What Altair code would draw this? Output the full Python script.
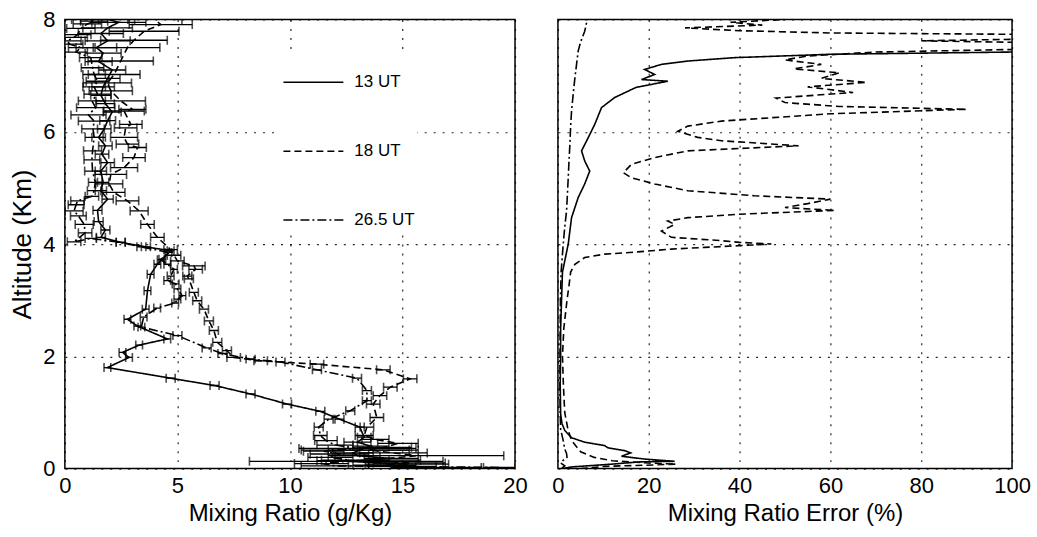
import altair as alt
import pandas as pd

FONT = "Liberation Sans Narrow, Arial Narrow, Liberation Sans, Arial, sans-serif"
SERIES = ["13 UT", "18 UT", "26.5 UT"]
DASHES = [[1, 0], [7, 4], [9, 3, 2, 3]]

# ---------------- Left panel: mixing ratio profiles (g/Kg) ----------------
ALT_13 = [0.04, 0.08, 0.13, 0.18, 0.23, 0.28, 0.33, 0.40, 0.47, 0.56, 0.74, 0.88, 1.02, 1.15,
          1.33, 1.48, 1.61, 1.80, 1.98, 2.07, 2.20, 2.31, 2.54, 2.66, 2.84, 3.17, 3.46, 3.64,
          3.73, 3.88, 3.95, 4.03, 4.12, 4.25, 4.40, 4.60, 4.80, 4.95, 5.10, 5.30, 5.45, 5.60,
          5.75, 5.90, 6.05, 6.20, 6.35, 6.50, 6.65, 6.80, 6.95, 7.10, 7.25, 7.40, 7.50, 7.62,
          7.75, 7.85, 7.95, 8.00]
MR_13 = [15.0, 15.2, 12.5, 14.5, 13.0, 12.8, 13.1, 13.6, 13.0, 13.3, 13.1, 12.2, 11.35, 9.87,
         8.25, 6.65, 4.70, 1.89, 2.85, 2.56, 3.30, 4.55, 3.22, 2.78, 3.59, 3.67, 3.81, 4.11,
         4.33, 4.70, 3.60, 2.48, 1.60, 1.80, 1.50, 1.45, 1.90, 1.60, 1.70, 1.60, 1.90, 1.65,
         1.80, 1.50, 1.75, 1.90, 2.10, 1.80, 1.60, 1.70, 1.90, 2.10, 1.50, 1.70, 1.40, 1.90,
         1.60, 1.90, 2.40, 1.90]
ERR_13 = [1.5, 1.85, 4.3, 1.2, 1.0, 0.9, 2.6, 0.8, 0.6, 0.3, 0.2, 0.2, 0.2, 0.2,
          0.2, 0.2, 0.2, 0.15, 0.15, 0.15, 0.15, 0.15, 0.15, 0.15, 0.15, 0.15, 0.15, 0.15,
          0.15, 0.15, 0.2, 0.2, 0.2, 0.2, 0.2, 0.2, 0.25, 0.25, 0.25, 0.25, 0.3, 0.3,
          0.3, 0.3, 0.3, 0.35, 0.4, 0.4, 0.45, 0.5, 0.55, 0.6, 0.6, 0.8, 0.9, 1.0,
          1.0, 1.1, 1.2, 1.2]

ALT_18 = [0.02, 0.06, 0.10, 0.15, 0.23, 0.28, 0.33, 0.38, 0.45, 0.52, 0.59, 0.74, 0.91, 1.15,
          1.30, 1.45, 1.60, 1.76, 1.86, 1.92, 1.98, 2.10, 2.25, 2.46, 2.63, 2.84, 2.99, 3.14,
          3.38, 3.43, 3.55, 3.61, 3.70, 3.80, 3.90, 4.12, 4.35, 4.59, 4.77, 4.92, 5.07, 5.24,
          5.36, 5.54, 5.72, 5.78, 5.90, 6.07, 6.13, 6.37, 6.40, 6.55, 6.73, 6.87, 7.02, 7.26,
          7.50, 7.63, 7.79, 7.91, 8.00]
MR_18 = [16.5, 14.2, 15.3, 13.6, 15.6, 14.6, 13.5, 14.2, 14.8, 13.8, 13.3, 13.42, 13.86, 13.7,
         14.0, 14.46, 15.34, 14.15, 11.2, 8.7, 7.5, 7.2, 6.77, 6.62, 6.4, 6.18, 5.88, 5.73,
         5.51, 5.44, 5.81, 5.73, 5.0, 4.85, 4.7, 4.11, 3.67, 3.30, 2.78, 2.17, 1.97, 2.04,
         2.63, 3.07, 3.22, 2.78, 2.63, 2.70, 2.93, 2.63, 3.00, 2.48, 2.04, 1.89, 2.19, 2.48,
         2.78, 3.07, 3.52, 4.26, 4.00]
ERR_18 = [2.0, 1.4, 1.6, 2.2, 3.9, 1.5, 1.8, 1.2, 0.9, 0.6, 0.4, 0.3, 0.3, 0.3,
          0.3, 0.3, 0.3, 0.3, 0.3, 0.3, 0.3, 0.2, 0.2, 0.2, 0.2, 0.2, 0.2, 0.2,
          0.2, 0.2, 0.3, 0.5, 0.3, 0.3, 0.3, 0.3, 0.3, 0.4, 0.5, 0.5, 0.6, 0.7,
          0.6, 0.5, 0.4, 0.5, 0.6, 0.5, 0.5, 0.9, 0.6, 1.1, 0.96, 1.07, 1.15, 1.45,
          1.44, 1.48, 1.55, 1.4, 1.2]

ALT_265 = [0.02, 0.05, 0.09, 0.14, 0.20, 0.26, 0.31, 0.36, 0.42, 0.50, 0.59, 0.74, 0.88, 1.03,
           1.21, 1.39, 1.61, 1.76, 1.90, 1.95, 2.05, 2.15, 2.37, 2.52, 2.70, 2.86, 2.95, 3.02,
           3.08, 3.20, 3.29, 3.35, 3.43, 3.55, 3.64, 3.72, 3.85, 3.95, 4.03, 4.10, 4.04, 4.20,
           4.35, 4.50, 4.59, 4.70, 4.77, 4.85, 4.95, 5.10, 5.30, 5.50, 5.66, 5.90, 6.05, 6.19,
           6.30, 6.43, 6.55, 6.67, 6.80, 6.90, 7.02, 7.14, 7.32, 7.42, 7.50, 7.56, 7.62, 7.68,
           7.73, 7.84, 7.92, 7.97, 8.00]
MR_265 = [19.3, 12.0, 11.4, 12.8, 11.8, 12.2, 11.5, 13.0, 12.0, 11.6, 11.35, 11.28, 11.72, 12.68,
          13.42, 13.42, 12.98, 11.2, 9.58, 8.25, 7.0, 6.3, 5.0, 3.4, 3.5, 4.1, 4.9, 5.0,
          5.22, 5.0, 4.92, 4.55, 4.7, 4.85, 4.55, 4.26, 4.6, 3.4, 2.48, 1.15, 0.41, 0.9,
          0.86, 0.6, 0.41, 0.5, 0.56, 1.2, 1.3, 1.35, 1.23, 1.2, 1.23, 1.3, 1.25, 1.3,
          1.05, 1.37, 1.2, 1.45, 1.3, 1.45, 1.3, 1.23, 1.15, 0.5, 0.71, 0.2, 0.12, 0.4,
          0.56, 0.71, 1.0, 1.3, 0.9]
ERR_265 = [0.7, 1.5, 1.2, 1.6, 1.0, 1.3, 0.9, 2.6, 0.8, 0.5, 0.3, 0.2, 0.2, 0.2,
           0.2, 0.2, 0.2, 0.2, 0.2, 0.2, 0.2, 0.2, 0.2, 0.15, 0.15, 0.15, 0.15, 0.15,
           0.15, 0.15, 0.15, 0.15, 0.15, 0.15, 0.15, 0.15, 0.15, 0.2, 0.2, 0.25, 0.3, 0.3,
           0.4, 0.35, 0.4, 0.35, 0.3, 0.3, 0.3, 0.3, 0.35, 0.35, 0.4, 0.4, 0.5, 0.7,
           0.78, 0.85, 0.6, 0.6, 0.5, 0.5, 0.5, 0.5, 0.5, 0.5, 0.55, 0.6, 0.6, 0.6,
           0.6, 0.63, 0.63, 0.6, 0.6]

# ---------------- Right panel: mixing ratio error (%) ----------------
EALT_13 = [0.0, 0.03, 0.08, 0.12, 0.13, 0.17, 0.22, 0.28, 0.32, 0.37, 0.41, 0.47, 0.55, 0.68,
           0.80, 0.97, 1.5, 2.0, 2.5, 3.0, 3.5, 4.0, 4.47, 4.83, 5.07, 5.30, 5.48, 5.66,
           5.90, 6.13, 6.43, 6.61, 6.79, 6.90, 6.93, 7.02, 7.11, 7.20, 7.26, 7.32, 7.38, 7.42,
           7.50, 7.70, 7.90, 8.0]
EPCT_13 = [1.0, 3.0, 12.0, 18.0, 25.7, 19.1, 14.0, 16.0, 14.7, 11.0, 10.3, 5.9, 3.0, 1.5,
           0.9, 0.6, 0.5, 0.6, 0.6, 0.8, 1.0, 2.27, 3.0, 4.47, 5.9, 7.0, 5.9, 5.2,
           6.7, 8.1, 9.6, 12.5, 17.2, 24.2, 18.4, 21.3, 19.1, 22.8, 28.6, 38.9, 60.0, 100.0,
           115.0, 120.0, 120.0, 120.0]

EALT_18 = [0.0, 0.04, 0.06, 0.08, 0.10, 0.14, 0.20, 0.30, 0.50, 0.70, 1.0, 1.5, 2.0, 2.5,
           3.0, 3.3, 3.5, 3.64, 3.76, 3.82, 3.86, 3.91, 3.94, 3.97, 4.00, 4.03, 4.06, 4.12,
           4.23, 4.35, 4.41, 4.47, 4.53, 4.60, 4.65, 4.72, 4.80, 4.86, 4.95, 5.07, 5.18, 5.27,
           5.42, 5.54, 5.66, 5.75, 5.84, 5.90, 6.01, 6.10, 6.19, 6.25, 6.32, 6.40, 6.45, 6.52,
           6.60, 6.70, 6.80, 6.88, 6.95, 7.05, 7.12, 7.20, 7.28, 7.35, 7.42, 7.48, 7.58, 7.62,
           7.66, 7.73, 7.76, 7.80, 7.85, 7.90, 7.95, 8.0]
EPCT_18 = [5.0, 10.3, 19.1, 26.0, 20.0, 12.0, 8.0, 5.0, 3.0, 2.2, 1.5, 1.2, 1.0, 1.3,
           2.0, 2.5, 2.8, 3.74, 5.9, 10.3, 17.6, 25.0, 32.3, 39.6, 47.0, 40.0, 36.0, 25.0,
           22.8, 25.7, 24.2, 28.6, 39.6, 61.0, 50.0, 55.0, 60.0, 43.3, 28.6, 21.3, 16.2, 14.4,
           16.2, 21.3, 28.6, 53.0, 36.0, 30.8, 26.4, 28.6, 36.0, 47.0, 60.0, 90.0, 62.0, 50.0,
           48.0, 65.0, 55.0, 68.0, 58.0, 62.0, 52.0, 58.0, 50.0, 55.0, 70.0, 110.0, 110.0, 80.0,
           110.0, 110.0, 60.0, 40.0, 28.0, 45.0, 38.0, 50.0]

EALT_265 = [0.0, 0.05, 0.10, 0.15, 0.20, 0.27, 0.35, 0.50, 0.70, 1.0, 1.5, 2.0, 2.5, 3.0,
            3.5, 4.0, 4.3, 4.59, 4.9, 5.18, 5.5, 5.78, 6.1, 6.37, 6.7, 6.96, 7.2, 7.44,
            7.6, 7.79, 7.94, 8.0]
EPCT_265 = [0.8, 1.5, 0.6, 1.2, 2.0, 1.9, 1.5, 1.17, 0.6, 0.5, 0.45, 0.45, 0.5, 0.55,
            0.7, 1.17, 1.5, 1.9, 2.1, 2.27, 2.45, 2.64, 2.8, 3.0, 3.4, 3.74, 4.1, 4.47,
            5.0, 5.9, 6.3, 6.3]


def profile(name, alts, vals, errs=None):
    d = pd.DataFrame({"series": name, "alt": alts, "v": vals, "i": range(len(alts))})
    if errs is not None:
        d["lo"] = [v - e for v, e in zip(vals, errs)]
        d["hi"] = [v + e for v, e in zip(vals, errs)]
    return d


left_df = pd.concat([
    profile("13 UT", ALT_13, MR_13, ERR_13),
    profile("18 UT", ALT_18, MR_18, ERR_18),
    profile("26.5 UT", ALT_265, MR_265, ERR_265),
], ignore_index=True)
caps_df = pd.concat([
    left_df[["series", "alt", "lo"]].rename(columns={"lo": "c"}),
    left_df[["series", "alt", "hi"]].rename(columns={"hi": "c"}),
], ignore_index=True)
right_df = pd.concat([
    profile("13 UT", EALT_13, EPCT_13),
    profile("18 UT", EALT_18, EPCT_18),
    profile("26.5 UT", EALT_265, EPCT_265),
], ignore_index=True)

dash_scale = alt.Scale(domain=SERIES, range=DASHES)
y_enc = alt.Y("alt:Q", scale=alt.Scale(domain=[0, 8], nice=False),
              axis=alt.Axis(values=[0, 2, 4, 6, 8], format="d", title="Altitude (Km)",
                            titlePadding=7, titleFontSize=26, labelPadding=10))
y_enc_r = alt.Y("alt:Q", scale=alt.Scale(domain=[0, 8], nice=False),
                axis=alt.Axis(values=[0, 2, 4, 6, 8], labels=False, title=None))

xl = alt.Scale(domain=[0, 20], nice=False)
xl_axis = alt.Axis(values=[0, 5, 10, 15, 20], format="d", title="Mixing Ratio (g/Kg)")

left_lines = alt.Chart(left_df).mark_line(color="black", strokeWidth=1.6, clip=True).encode(
    x=alt.X("v:Q", scale=xl, axis=xl_axis),
    y=y_enc,
    order="i:Q",
    detail="series:N",
    strokeDash=alt.StrokeDash(
        "series:N", scale=dash_scale,
        legend=alt.Legend(title=None, orient="none", legendX=216, legendY=30,
                          symbolType="stroke", symbolSize=3600, symbolStrokeWidth=1.5,
                          symbolStrokeColor="black", labelFontSize=17, labelFont=FONT,
                          labelColor="black", labelOffset=10, rowPadding=30,
                          fillColor="white", padding=2)),
)
left_bars = alt.Chart(left_df).mark_rule(color="black", strokeWidth=1.3, clip=True).encode(
    x=alt.X("lo:Q", scale=xl), x2="hi:Q", y=alt.Y("alt:Q"),
)
left_caps = alt.Chart(caps_df).mark_tick(color="black", orient="vertical", size=9,
                                         thickness=1.6, clip=True).encode(
    x=alt.X("c:Q", scale=xl), y=alt.Y("alt:Q"),
)
left = alt.layer(left_bars, left_caps, left_lines).properties(width=451, height=450)

right = alt.Chart(right_df).mark_line(color="black", strokeWidth=1.6, clip=True).encode(
    x=alt.X("v:Q", scale=alt.Scale(domain=[0, 100], nice=False),
            axis=alt.Axis(values=[0, 20, 40, 60, 80, 100], format="d",
                          title="Mixing Ratio Error (%)")),
    y=y_enc_r,
    order="i:Q",
    detail="series:N",
    strokeDash=alt.StrokeDash("series:N", scale=dash_scale, legend=None),
).properties(width=455, height=450)

chart = alt.hconcat(left, right, spacing=43).resolve_scale(
    strokeDash="independent", y="independent"
).properties(
    bounds="flush", background="white",
    padding={"left": 9, "top": 7, "right": 5, "bottom": 5}
).configure_view(
    stroke="black", strokeWidth=1.5
).configure_axis(
    labelFont=FONT, titleFont=FONT, labelFontSize=22, titleFontSize=24,
    labelColor="black", titleColor="black", titleFontWeight="normal",
    grid=True, gridColor="black", gridDash=[2, 7], gridWidth=1.2, gridOpacity=0.85,
    domain=False, ticks=False, labelPadding=7, labelFlush=False, titlePadding=5,
)

chart.save("out.html", embed_options={"renderer": "svg", "actions": False})
